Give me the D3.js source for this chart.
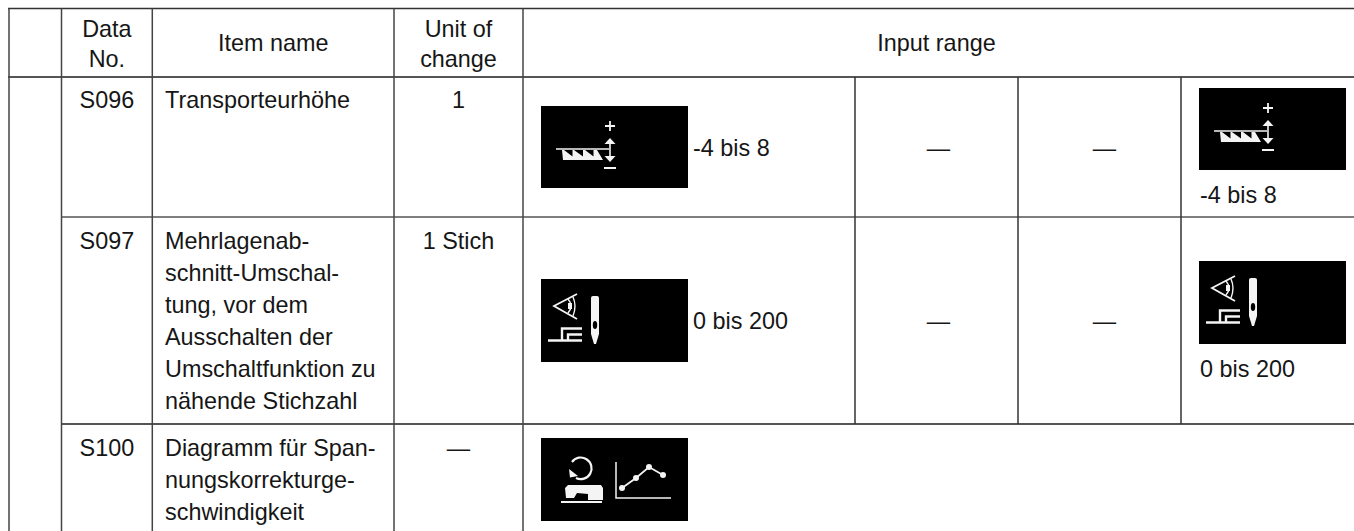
<!DOCTYPE html>
<html><head><meta charset="utf-8">
<style>html,body{margin:0;padding:0;background:#fff}svg{display:block}
text{font-family:"Liberation Sans",Arial,sans-serif;fill:#161616}</style>
<script src="https://cdn.jsdelivr.net/npm/d3@7/dist/d3.min.js"></script>
</head><body><script>
const columns = ["margin","no","item","unit","r1","r2","r3","r4"];
const headerDataNo = ["Data","No."];
const headerItem = ["Item name"];
const headerUnit = ["Unit of","change"];
const headerRange = ["Input range"];
const rowKeys = ["S096","S097","S100"];
const itemNames = [["Transporteurhöhe"],
  ["Mehrlagenab-","schnitt-Umschal-","tung, vor dem","Ausschalten der","Umschaltfunktion zu","nähende Stichzahl"],
  ["Diagramm für Span-","nungskorrekturge-","schwindigkeit"]];
const units = ["1","1 Stich","—"];
const rangeLabels = ["-4 bis 8","0 bis 200",""];
const rangeDash = ["—","—",""];
const iconNames = ["feed","needle","graph"];

const W=1354,H=531;
const svg=d3.select("body").append("svg").attr("width",W).attr("height",H);
const colX=d3.scaleOrdinal().domain(columns.concat("end")).range([9,61.5,152.3,394,523,855,1018,1181,1354]);
const rowY=d3.scaleOrdinal().domain(["top","head"].concat(rowKeys)).range([8.5,77,217,424,531]);
const FS=23.4, LH=32;

// ---- grid
const grid=svg.append("g").attr("fill","none");
const hl=(x1,x2,y,w,c)=>grid.append("line").attr("x1",x1).attr("x2",x2).attr("y1",y).attr("y2",y).attr("stroke",c).attr("stroke-width",w);
const vl=(x,y1,y2,w,c)=>grid.append("line").attr("x1",x).attr("x2",x).attr("y1",y1).attr("y2",y2).attr("stroke",c).attr("stroke-width",w);
hl(colX("margin")-1,W,rowY("top"),1.5,"#333");
hl(colX("margin")-1,W,rowY("head"),2,"#555");
hl(colX("no"),W,rowY("S096"),1.6,"#555");
hl(colX("no"),W,rowY("S097"),2,"#555");
["margin","no","item","unit","r1"].forEach(c=>vl(colX(c),rowY("top"),H,1.5,"#444"));
["r2","r3","r4"].forEach(c=>vl(colX(c),rowY("head"),rowY("S097"),1.5,"#333"));

// ---- text
function lines(arr,x,y0,anchor,lh=LH){
  svg.append("g").selectAll("text").data(arr).join("text")
    .attr("x",x).attr("y",(d,i)=>y0+i*lh).attr("text-anchor",anchor)
    .attr("font-size",FS).text(d=>d);
}
const mid=(a,b)=>(colX(a)+colX(b))/2;
lines(headerDataNo,mid("no","item"),37,"middle",30);
lines(headerItem,mid("item","unit"),51,"middle");
lines(headerUnit,mid("unit","r1"),37,"middle",30);
lines(headerRange,mid("r1","end")-2,51,"middle");

const rowBase=d3.scaleOrdinal().domain(rowKeys).range([108,249,456]);
const iconLeft=d3.scaleOrdinal().domain(rowKeys).range([541,541,541]);
const iconTop=d3.scaleOrdinal().domain(rowKeys).range([106,279,438]);
const iconRightTop=d3.scaleOrdinal().domain(rowKeys).range([88,261,null]);
const labelBase=d3.scaleOrdinal().domain(rowKeys).range([156,329,null]);
const labelRightBase=d3.scaleOrdinal().domain(rowKeys).range([203,377,null]);

rowKeys.forEach((k,i)=>{
  lines([k],mid("no","item"),rowBase(k),"middle");
  lines(itemNames[i],165,rowBase(k),"start");
  lines([units[i]],mid("unit","r1"),rowBase(k),"middle");
  drawIcon(iconNames[i],iconLeft(k),iconTop(k));
  if(rangeLabels[i]){
    lines([rangeLabels[i]],693,labelBase(k),"start");
    lines([rangeDash[i]],mid("r2","r3")+2,labelBase(k),"middle");
    lines([rangeDash[i]],mid("r3","r4")+5,labelBase(k),"middle");
    drawIcon(iconNames[i],1199,iconRightTop(k));
    lines([rangeLabels[i]],1200,labelRightBase(k),"start");
  }
});

function drawIcon(name,x,y){
  const g=svg.append("g").attr("transform",`translate(${x},${y})`);
  g.append("rect").attr("width",147).attr("height",name==="feed"?82:83).attr("fill","#000");
  const S=(d,w=1.8)=>g.append("path").attr("d",d).attr("fill","none").attr("stroke","#f4f4f4").attr("stroke-width",w);
  const F=(d,c="#f4f4f4")=>g.append("path").attr("d",d).attr("fill",c);
  if(name==="feed"){
    S("M64,20H74M69,15V25"); S("M63,62H75",2);
    S("M15,43H68",1.5); S("M69,36V52",1.6);
    F("M69,32L74.5,38H63.5Z"); F("M69,56L74.5,50H63.5Z");
    F("M21,44H56L62,54H22Z");
    F("M23,44H31.5L31.5,50.5Z","#000"); F("M33,44H42L42,50.5Z","#000"); F("M44,44H52.5L52.5,50.5Z","#000");
  } else if(name==="needle"){
    S("M36,15L13,27L36,40",1.8);
    S("M27,20Q33,27 27,34",1.4); S("M32,18Q36,27 32,37",1.4);
    F("M27,24h4v6h-4z");
    F("M50,19Q50,17 52,17H56Q58,17 58,19V55L55,65H53L50,55Z");
    g.append("ellipse").attr("cx",54).attr("cy",46).attr("rx",2.2).attr("ry",4).attr("fill","#000");
    S("M7,61.5H41",2.4); S("M21,61V49.5H41",2.4); S("M27,61V55.5H41",2.4);
  } else {
    S("M31,24A10.8,10.8 0 1 1 35,40",2.2);
    F("M28,31L29,39.5L37,38Z");
    F("M27,47H60L62,50V62H47V56L36,55L33,60H25L24,50Z");
    S("M20,64H61",2);
    S("M75,24V60H130",1.5);
    S("M81,50L95,40L108,29L122,37",1.8);
    [[81,50],[95,40],[108,29],[122,37]].forEach(p=>g.append("circle").attr("cx",p[0]).attr("cy",p[1]).attr("r",3).attr("fill","#f4f4f4"));
  }
}
</script></body></html>
